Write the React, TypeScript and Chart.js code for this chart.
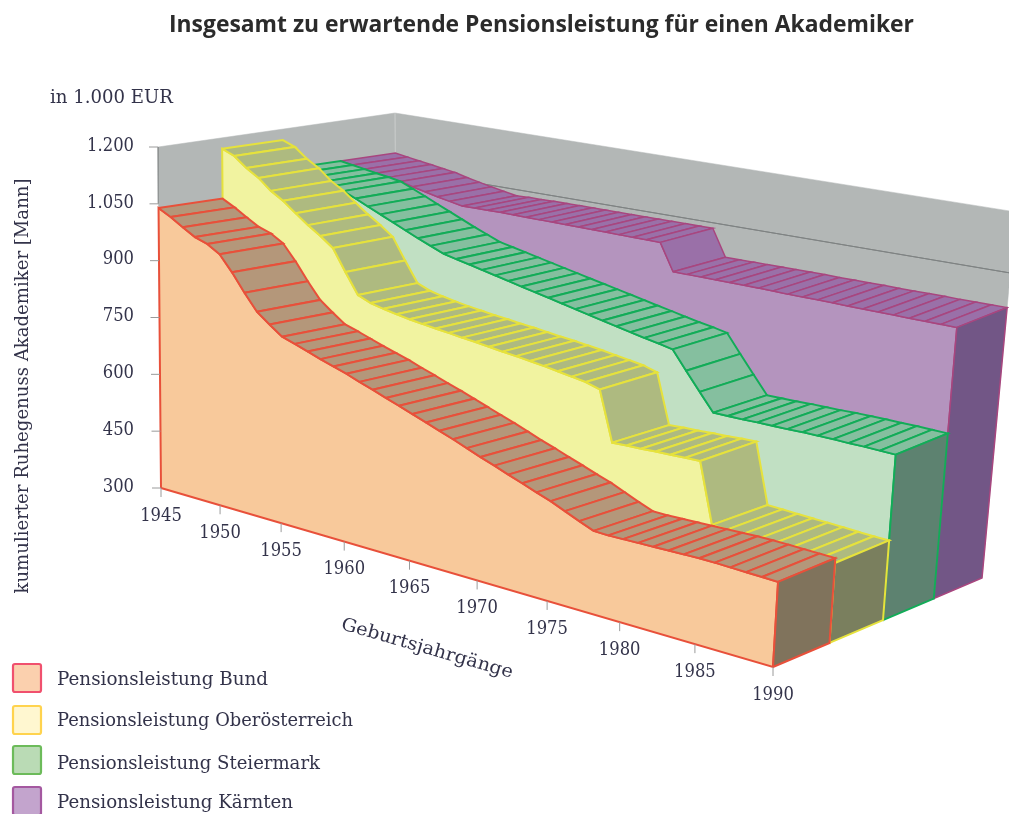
import React, { useEffect, useRef } from "react";
import { Chart, registerables } from "chart.js";

Chart.register(...registerables);

const W = 1009;
const H = 814;

// ---------- data ----------
const years = [
  1945, 1946, 1947, 1948, 1949, 1950, 1951, 1952, 1953, 1954, 1955, 1956, 1957, 1958, 1959, 1960,
  1961, 1962, 1963, 1964, 1965, 1966, 1967, 1968, 1969, 1970, 1971, 1972, 1973, 1974, 1975, 1976,
  1977, 1978, 1979, 1980, 1981, 1982, 1983, 1984, 1985, 1986, 1987, 1988, 1989, 1990,
];
const bund = [
  1039, 1023, 1004, 986, 976, 957, 918, 873, 832, 807, 784, 774, 763, 752, 742, 732,
  720, 709, 697, 686, 674, 662, 650, 638, 625, 612, 600, 587, 575, 562, 550, 535,
  520, 506, 505, 506, 507, 508, 509, 510, 511, 511, 510, 509, 508, 507,
];
const oberoesterreich = [
  1171, 1159, 1134, 1115, 1088, 1069, 1044, 1020, 999, 975, 920, 868, 855, 848, 842, 837,
  833, 829, 826, 822, 819, 815, 811, 808, 804, 800, 795, 790, 785, 775, 650, 652,
  653, 655, 656, 658, 659, 510, 508, 506, 504, 502, 500, 498, 496, 495,
];
const steiermark = [
  1093, 1088, 1083, 1078, 1074, 1068, 1055, 1041, 1027, 1013, 999, 985, 972, 959, 952, 945,
  938, 931, 924, 917, 910, 903, 896, 889, 882, 875, 868, 861, 854, 848, 841, 795,
  750, 706, 706, 706, 707, 707, 707, 708, 708, 708, 707, 707, 706, 705,
];
const kaernten = [
  1093, 1088, 1083, 1078, 1073, 1068, 1060, 1053, 1046, 1040, 1034, 1035, 1035, 1036, 1036, 1036,
  1036, 1036, 1036, 1036, 1036, 1036, 1036, 1036, 1036, 1036, 968, 968, 968, 968, 968, 968,
  968, 968, 967, 967, 967, 967, 966, 966, 966, 966, 965, 965, 965, 965,
];
const yearTicks = [1945, 1950, 1955, 1960, 1965, 1970, 1975, 1980, 1985, 1990];
const valueTicks = [300, 450, 600, 750, 900, 1050, 1200];
const valueLabels = ["300", "450", "600", "750", "900", "1.050", "1.200"];
const titleText = "Insgesamt zu erwartende Pensionsleistung für einen Akademiker";
const unitText = "in 1.000 EUR";
const yAxisTitle = "kumulierter Ruhegenuss Akademiker [Mann]";
const xAxisTitle = "Geburtsjahrgänge";
const seriesNames = [
  "Pensionsleistung Bund",
  "Pensionsleistung Oberösterreich",
  "Pensionsleistung Steiermark",
  "Pensionsleistung Kärnten",
];

// ---------- styles ----------
const seriesStyles = [
  { values: bund, front: "#F8C99B", strip: "#B4977A", line: "#E8503A", end: "#80735C", lw: 2 },
  { values: oberoesterreich, front: "#F1F3A0", strip: "#AEBA80", line: "#E6E23C", end: "#7A7F5E", lw: 2 },
  { values: steiermark, front: "#C1E0C3", strip: "#85BF9F", line: "#12AC58", end: "#5D8270", lw: 1.9 },
  { values: kaernten, front: "#B494BE", strip: "#9A70A8", line: "#A8467F", end: "#725686", lw: 1.5 },
];
const legendStyles = [
  { fill: "#FBD0AE", stroke: "#F0506E" },
  { fill: "#FFF7D0", stroke: "#FFD34E" },
  { fill: "#BADBB5", stroke: "#6CBB5A" },
  { fill: "#C3A4CD", stroke: "#A458A0" },
];
const TEXT = "#33334A";

// ---------- oblique 3D projection of (year, value, depth) ----------
const view = {
  floorFrontL: [161, 488], topFrontL: [158, 147],
  floorFrontR: [773, 667], topFrontR: [795, 297],
  floorBackL: [398, 450], topBackL: [395, 113],
  floorBackR: [982, 578], topBackR: [1016, 212],
};
const mix = (a: number[], b: number[], k: number) => [a[0] + (b[0] - a[0]) * k, a[1] + (b[1] - a[1]) * k];
function project(year: number, value: number, depth: number) {
  const t = (year - 1945) / 45;
  const u = t / (1.17 - 0.17 * t);
  const s0 = depth / 4;
  const s = s0 / (0.9 + 0.1 * s0);
  const h = (value - 300) / 900;
  const floor = mix(mix(view.floorFrontL, view.floorFrontR, u), mix(view.floorBackL, view.floorBackR, u), s);
  const top = mix(mix(view.topFrontL, view.topFrontR, u), mix(view.topBackL, view.topBackR, u), s);
  const p = mix(floor, top, h);
  return { x: p[0], y: p[1] };
}

type Pt = { x: number; y: number };
function face(pts: Pt[], fill: string | null, stroke: string, lw: number) {
  return {
    type: "scatter",
    data: [...pts, pts[0]],
    showLine: true,
    pointRadius: 0,
    borderColor: stroke,
    borderWidth: lw,
    tension: 0,
    polyFill: fill,
    clip: false,
  };
}
function buildDatasets() {
  const list: any[] = [];
  const gray = "#B3B7B6";
  const y0 = years[0];
  const y1 = years[years.length - 1];
  list.push(face([project(y0, 300, 0), project(y0, 1200, 0), project(y0, 1200, 4), project(y0, 300, 4)], gray, gray, 0.5));
  list.push(face([project(y0, 300, 4), project(y0, 1200, 4), project(y1, 1200, 4), project(y1, 300, 4)], gray, gray, 0.5));
  list.push({ ...face([project(y0, 1200, 0), project(y0, 1050, 0)], null, "#8A8E8E", 1.2) });
  list.push({ ...face([project(y0, 1200, 4), project(y0, 800, 4)], null, "#C4C7C6", 1) });
  list.push({ ...face([project(y0, 1050, 4), project(y1, 1050, 4)], null, "#7F8383", 1) });
  for (let i = seriesStyles.length - 1; i >= 0; i--) {
    const st = seriesStyles[i];
    const v = st.values;
    const front: Pt[] = [project(y0, 300, i)];
    years.forEach((yr, k) => front.push(project(yr, v[k], i)));
    front.push(project(y1, 300, i));
    list.push(face(front, st.front, st.line, st.lw));
    for (let k = 0; k < years.length - 1; k++) {
      list.push(
        face(
          [
            project(years[k], v[k], i),
            project(years[k + 1], v[k + 1], i),
            project(years[k + 1], v[k + 1], i + 1),
            project(years[k], v[k], i + 1),
          ],
          st.strip, st.line, st.lw,
        ),
      );
    }
    const e = v[v.length - 1];
    list.push(face([project(y1, 300, i), project(y1, e, i), project(y1, e, i + 1), project(y1, 300, i + 1)], st.end, st.line, st.lw));
  }
  return list.reverse(); // Chart.js paints the first dataset last
}

function drawText(
  ctx: CanvasRenderingContext2D, text: string, x: number, y: number,
  opts: { font: string; width?: number; squeeze?: number; rot?: number; align?: CanvasTextAlign; color?: string },
) {
  ctx.save();
  ctx.translate(x, y);
  if (opts.rot) ctx.rotate(opts.rot);
  ctx.font = opts.font;
  ctx.fillStyle = opts.color || TEXT;
  ctx.textBaseline = "middle";
  ctx.textAlign = opts.align || "left";
  if (opts.width) ctx.scale(opts.width / ctx.measureText(text).width, 1);
  else if (opts.squeeze) ctx.scale(opts.squeeze, 1);
  ctx.fillText(text, 0, 0);
  ctx.restore();
}

const polyFillPlugin = {
  id: "polyFill",
  beforeDatasetDraw(chart: any, args: any) {
    const ds = chart.data.datasets[args.index];
    if (!ds.polyFill) return;
    const pts = chart.getDatasetMeta(args.index).data;
    const ctx = chart.ctx;
    ctx.save();
    ctx.beginPath();
    pts.forEach((p: any, i: number) => (i ? ctx.lineTo(p.x, p.y) : ctx.moveTo(p.x, p.y)));
    ctx.closePath();
    ctx.fillStyle = ds.polyFill;
    ctx.fill();
    ctx.restore();
  },
};

const SERIF = '"DejaVu Serif"';
const annotationsPlugin = {
  id: "annotations",
  afterDraw(chart: any) {
    const ctx = chart.ctx as CanvasRenderingContext2D;
    const sx = (v: number) => chart.scales.x.getPixelForValue(v);
    const sy = (v: number) => chart.scales.y.getPixelForValue(v);
    const font = `18px ${SERIF}`;
    drawText(ctx, titleText, sx(169), sy(25), { font: 'bold 24px "Open Sans"', width: 745, color: "#2B2B2B" });
    drawText(ctx, unitText, sx(50), sy(98), { font, width: 123 });
    ctx.strokeStyle = "#9A9A9A";
    ctx.lineWidth = 1;
    valueTicks.forEach((v, i) => {
      const p = project(1945, v, 0);
      ctx.beginPath();
      ctx.moveTo(sx(p.x - 9), sy(p.y));
      ctx.lineTo(sx(p.x), sy(p.y));
      ctx.stroke();
      drawText(ctx, valueLabels[i], sx(134), sy(p.y - 1), { font, align: "right", squeeze: 0.91 });
    });
    yearTicks.forEach((yr) => {
      const p = project(yr, 300, 0);
      ctx.beginPath();
      ctx.moveTo(sx(p.x), sy(p.y));
      ctx.lineTo(sx(p.x), sy(p.y + 9));
      ctx.stroke();
      drawText(ctx, String(yr), sx(p.x), sy(p.y + 28), { font, align: "center", squeeze: 0.91 });
    });
    drawText(ctx, yAxisTitle, sx(23), sy(386), { font, rot: -Math.PI / 2, align: "center", width: 415 });
    drawText(ctx, xAxisTitle, sx(427), sy(649), { font, rot: (16 * Math.PI) / 180, align: "center", width: 178 });
    const boxY = [663, 705, 745, 786];
    const textY = [680, 721, 764, 803];
    const textW = [211, 296, 263, 236];
    seriesNames.forEach((name, i) => {
      ctx.beginPath();
      ctx.roundRect(sx(13), sy(boxY[i] + 1), 28, 28, 2);
      ctx.fillStyle = legendStyles[i].fill;
      ctx.fill();
      ctx.strokeStyle = legendStyles[i].stroke;
      ctx.lineWidth = 2.2;
      ctx.stroke();
      drawText(ctx, name, sx(57), sy(textY[i]), { font, width: textW[i] });
    });
  },
};

export default function App() {
  const ref = useRef<HTMLCanvasElement>(null);
  useEffect(() => {
    const chart = new Chart(ref.current as HTMLCanvasElement, {
      type: "scatter",
      data: { datasets: buildDatasets() as any },
      options: {
        animation: false,
        responsive: false,
        events: [],
        layout: { padding: 0 },
        plugins: { legend: { display: false }, tooltip: { enabled: false }, title: { display: false } },
        scales: {
          x: { type: "linear", display: false, min: 0, max: W },
          y: { type: "linear", display: false, min: 0, max: H, reverse: true },
        },
      },
      plugins: [polyFillPlugin, annotationsPlugin],
    } as any);
    return () => chart.destroy();
  }, []);
  return (
    <div style={{ position: "absolute", left: 0, top: 0, width: W, height: H, overflow: "hidden", background: "#fff" }}>
      <canvas ref={ref} width={W} height={H} style={{ display: "block", filter: "blur(0.7px)" }} />
    </div>
  );
}
